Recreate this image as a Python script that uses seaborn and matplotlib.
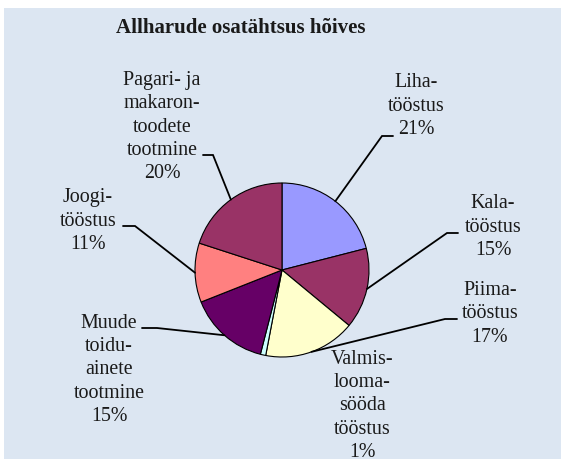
import matplotlib.pyplot as plt
import seaborn as sns
import numpy as np
from matplotlib.patches import Rectangle

# data
labels = [
    "Liha-\ntööstus",
    "Kala-\ntööstus",
    "Piima-\ntööstus",
    "Valmis-\nlooma-\nsööda\ntööstus",
    "Muude\ntoidu-\nainete\ntootmine",
    "Joogi-\ntööstus",
    "Pagari- ja\nmakaron-\ntoodete\ntootmine",
]
shares = [21, 15, 17, 1, 15, 11, 20]
colors = ["#9999FF", "#993366", "#FFFFCC", "#CCFFFF", "#660066", "#FF8080", "#993366"]
title = "Allharude osatähtsus hõives"

sns.set_theme(style="white")
plt.rcParams["font.family"] = ["Liberation Serif", "DejaVu Serif"]

W, H = 561, 459
fig = plt.figure(figsize=(W / 100, H / 100), dpi=100)
fig.patch.set_facecolor("white")
fig.add_artist(Rectangle((4 / W, 0), 1, 451 / H, transform=fig.transFigure,
                         facecolor="#DCE6F2", edgecolor="none", zorder=0))

# pie centre and radius in pixels
cx, cy, r = 282, 270, 87
ax = fig.add_axes([(cx - r) / W, (H - cy - r) / H, 2 * r / W, 2 * r / H])
ax.set_axis_off()
wedges, _ = ax.pie(shares, colors=colors, startangle=90, counterclock=False,
                   wedgeprops=dict(edgecolor="black", linewidth=0.8))
ax.set_xlim(-1, 1)
ax.set_ylim(-1, 1)


def px(x, y):
    return (x - cx) / r, (cy - y) / r


# label centre (px), leader start, leader elbow (px) - None for no leader
layout = [
    ((416, 106), (393, 136), (382, 136)),
    ((493, 227), (458, 233), (447, 233)),
    ((490, 314), (457, 319), (445, 319)),
    ((362, 406), None, None),
    ((109, 370), (142, 328), (157, 328)),
    ((88, 221), (123, 226), (135, 226)),
    ((162, 127), (203, 155), (213, 155)),
]

for w, lab, val, (c, p0, p1) in zip(wedges, labels, shares, layout):
    tx, ty = px(*c)
    ax.text(tx, ty, f"{lab}\n{val}%", ha="center", va="center", fontsize=14.4,
            color="#1a1a1a", linespacing=1.32, clip_on=False)
    if p0 is not None:
        mid = np.deg2rad((w.theta1 + w.theta2) / 2)
        ex, ey = np.cos(mid), np.sin(mid)
        x0, y0 = px(*p0)
        x1, y1 = px(*p1)
        ax.plot([x0, x1, ex], [y0, y1, ey], color="black", lw=1.3,
                clip_on=False, solid_joinstyle="miter")

fig.text(241 / W, 1 - 28 / H, title, ha="center", va="center",
         fontsize=15, fontweight="bold", color="#1a1a1a")

fig.savefig("out.png", dpi=100)
